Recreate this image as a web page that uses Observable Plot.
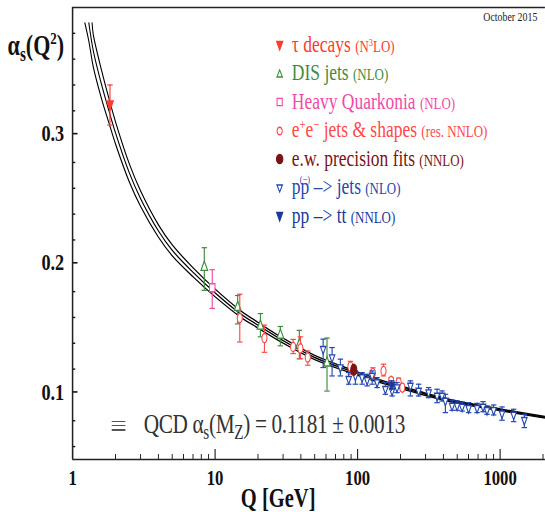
<!DOCTYPE html>
<html><head><meta charset="utf-8">
<script src="https://cdn.jsdelivr.net/npm/d3@7"></script>
<script src="https://cdn.jsdelivr.net/npm/@observablehq/plot@0.6"></script>
<style>
html,body{margin:0;padding:0;background:#fff;}
#wrap{position:relative;width:545px;height:512px;overflow:hidden;}
#inner{position:absolute;left:0;top:0;width:717px;height:512px;transform:scaleX(0.76);transform-origin:0 0;font-family:"Liberation Serif","Times New Roman",serif;}
#inner svg.chart{position:absolute;left:0;top:0;}
.t{position:absolute;white-space:nowrap;line-height:1;}
.leg{font-size:23px;}
.leg small{font-size:17px;}
.leg sup{font-size:14px;vertical-align:8px;line-height:0;}
.leg small sup{font-size:11px;vertical-align:6px;}
.mk{position:absolute;overflow:visible;}
</style></head>
<body><div id="wrap"><div id="inner"></div></div>
<script>
// ---------- data ----------
// QCD running coupling band
const lowerQ  = [1.22, 1.3, 1.4, 1.6, 1.8, 2.0, 2.5, 3, 4, 5, 7, 10, 15, 20, 30, 50, 91.2, 150, 200, 300, 500, 1000, 2100];
const lowerA  = [0.388, 0.374, 0.3535, 0.329, 0.3105, 0.2944, 0.265, 0.246, 0.2222, 0.2078, 0.1915, 0.176, 0.1605, 0.1518, 0.1401, 0.1274, 0.1168, 0.1089, 0.105, 0.0996, 0.0937, 0.0878, 0.0819];
const centralQ = [1.3, 1.4, 1.6, 1.8, 2.0, 2.5, 3, 4, 5, 7, 10, 15, 20, 30, 50, 91.2, 150, 200, 300, 500, 1000, 2100];
const centralA = [0.388, 0.366, 0.340, 0.320, 0.303, 0.272, 0.252, 0.227, 0.212, 0.195, 0.179, 0.163, 0.154, 0.142, 0.129, 0.1181, 0.110, 0.106, 0.1005, 0.0945, 0.0885, 0.0825];
const upperQ  = [1.37, 1.4, 1.6, 1.8, 2.0, 2.5, 3, 4, 5, 7, 10, 15, 20, 30, 50, 91.2, 150, 200, 300, 500, 1000, 2100];
const upperA  = [0.388, 0.3785, 0.351, 0.3295, 0.3116, 0.279, 0.258, 0.2318, 0.2162, 0.1985, 0.182, 0.1655, 0.1562, 0.1439, 0.1306, 0.1194, 0.1111, 0.107, 0.1014, 0.0953, 0.0892, 0.0831];

// tau decays (N3LO)
const tauQ = [1.83], tauA = [0.325], tauLo = [0.309], tauHi = [0.340];
// DIS jets (NLO)
const disQ  = [8.4, 14.4, 20.8, 28.7, 39, 61];
const disA  = [0.199, 0.168, 0.1535, 0.1465, 0.139, 0.125];
const disLo = [0.181, 0.155, 0.145, 0.138, 0.128, 0.103];
const disHi = [0.214, 0.177, 0.163, 0.153, 0.150, 0.144];
// Heavy Quarkonia (NLO)
const hqQ = [9.55], hqA = [0.183], hqLo = [0.167], hqHi = [0.197];
// e+e- jets & shapes (res. NNLO)
const eeQ  = [14.9, 22.2, 35.3, 39.7, 44.7, 89, 128, 152, 172, 194, 206];
const eeA  = [0.1595, 0.144, 0.1372, 0.136, 0.129, 0.122, 0.117, 0.1186, 0.1109, 0.1096, 0.1057];
const eeLo = [0.141, 0.133, 0.132, 0.128, 0.123, 0.116, 0.112, 0.1147, 0.107, 0.1062, 0.1031];
const eeHi = [0.178, 0.154, 0.143, 0.145, 0.134, 0.126, 0.121, 0.1238, 0.1134, 0.113, 0.1083];
// e.w. precision fits (NNLO)
const ewQ = [94], ewA = [0.1195], ewLo = [0.117], ewHi = [0.122];
// p p(bar) -> jets (NLO)
const ppQ  = [57.3, 66.2, 75.7, 86.6, 96.5, 107.5, 116.6, 126.4, 137, 156.7, 174.6, 189, 234.6, 268, 315, 361, 391, 413, 460, 499, 541, 601, 689, 759, 809, 901, 1031, 1244, 1479];
const ppA  = [0.1354, 0.1289, 0.1212, 0.1122, 0.1147, 0.1134, 0.1114, 0.1147, 0.1096, 0.1044, 0.1031, 0.1057, 0.107, 0.1031, 0.1018, 0.0992, 0.0992, 0.0953, 0.0915, 0.0915, 0.0907, 0.0897, 0.0897, 0.0907, 0.0881, 0.0881, 0.0855, 0.0845, 0.0804];
const ppLo = [0.1212, 0.1147, 0.1147, 0.1083, 0.1083, 0.1083, 0.107, 0.1083, 0.1057, 0.1005, 0.0992, 0.1018, 0.0992, 0.0992, 0.0979, 0.094, 0.0953, 0.0863, 0.0881, 0.0881, 0.0875, 0.0863, 0.0863, 0.087, 0.085, 0.0845, 0.0804, 0.0793, 0.0747];
const ppHi = [0.1432, 0.1367, 0.1277, 0.1173, 0.1186, 0.1173, 0.116, 0.1186, 0.1134, 0.1096, 0.107, 0.1096, 0.1109, 0.1083, 0.1057, 0.1044, 0.1031, 0.1005, 0.0959, 0.0953, 0.0945, 0.094, 0.0935, 0.0948, 0.0915, 0.0922, 0.0907, 0.0889, 0.085];
// pp -> tt (NNLO)
const ttQ = [173], ttA = [0.1077], ttLo = [0.1045], ttHi = [0.111];

// axes
const yMajor = [0.1, 0.2, 0.3];
const yTickLabels = ["0.1", "0.2", "0.3"];
const yMinor = [0.06, 0.08, 0.12, 0.14, 0.16, 0.18, 0.22, 0.24, 0.26, 0.28, 0.32, 0.34, 0.36, 0.38];
const xMajor = [1, 10, 100, 1000];
const xTickLabels = ["1", "10", "100", "1000"];
const xMinor = [2,3,4,5,6,7,8,9,20,30,40,50,60,70,80,90,200,300,400,500,600,700,800,900,2000];

const colors = {tau:"#ff3b2f", dis:"#3f8c3f", hq:"#f04aa8", ee:"#ff4848", ew:"#7a1414", pp:"#2447b0", tt:"#1a3a9c"};

// ---------- helpers ----------
const rows = (Q, A, Lo, Hi) => Q.map((q, i) => ({q, a: A[i], lo: Lo[i], hi: Hi[i]}));
const pts = (Q, A) => Q.map((q, i) => ({q, a: A[i]}));
const rad = size => Math.sqrt(size / Math.PI);
const triDown = {draw(c, size){ const r = rad(size); c.moveTo(0, r*1.35); c.lineTo(-r, -r*0.75); c.lineTo(r, -r*0.75); c.closePath(); }};
const triUp = {draw(c, size){ const r = rad(size); c.moveTo(0, -r*1.35); c.lineTo(-r, r*0.75); c.lineTo(r, r*0.75); c.closePath(); }};
const sq = {draw(c, size){ const r = rad(size); c.rect(-r, -r*1.1, 2*r, 2.2*r); }};
const oval = {draw(c, size){ const r = rad(size); const rx = r*0.8, ry = r*1.1, k = 0.5523;
  c.moveTo(rx, 0);
  c.bezierCurveTo(rx, ry*k, rx*k, ry, 0, ry);
  c.bezierCurveTo(-rx*k, ry, -rx, ry*k, -rx, 0);
  c.bezierCurveTo(-rx, -ry*k, -rx*k, -ry, 0, -ry);
  c.bezierCurveTo(rx*k, -ry, rx, -ry*k, rx, 0);
  c.closePath(); }};
const cap = {draw(c){ c.moveTo(-3.6, 0); c.lineTo(3.6, 0); }};

function series(data, color, symbol, r, filled){
  return [
    Plot.ruleX(data, {x:"q", y1:"lo", y2:"hi", stroke: color, strokeWidth: 1.5}),
    Plot.dot(data, {x:"q", y:"lo", symbol: cap, r: 2, stroke: color, strokeWidth: 1.2}),
    Plot.dot(data, {x:"q", y:"hi", symbol: cap, r: 2, stroke: color, strokeWidth: 1.2}),
    Plot.dot(data, {x:"q", y:"a", symbol, r, stroke: color, strokeWidth: 1.4, fill: filled ? color : "white"})
  ];
}

const chart = Plot.plot({
  width: 717, height: 512,
  marginLeft: 95, marginRight: 0, marginTop: 7, marginBottom: 53,
  x: {type: "log", domain: [1, 2075]},
  y: {domain: [0.05, 0.4]},
  style: {fontFamily: "'Liberation Serif', serif", background: "transparent", overflow: "visible", color: "#111"},
  marks: [
    Plot.axisY(yMinor, {tickSize: -4, tickFormat: () => "", label: null, strokeWidth: 1.4}),
    Plot.axisY(yMajor, {tickSize: -7, tickPadding: 18, dy: -3, tickFormat: (d, i) => yTickLabels[i], fontSize: 24, fontWeight: "bold", label: null, strokeWidth: 1.6}),
    Plot.axisX(xMinor, {tickSize: -5, tickFormat: () => "", label: null, strokeWidth: 1.2}),
    Plot.axisX(xMajor, {tickSize: -10, tickFormat: () => "", label: null, strokeWidth: 1.4}),
    Plot.text(xMajor, {x: d => d, text: (d, i) => xTickLabels[i], frameAnchor: "bottom", lineAnchor: "top", dy: 9.5, fontSize: 22, fontWeight: "bold", fill: "#111"}),
    Plot.ruleX([1], {stroke: "#222", strokeWidth: 2}),
    Plot.ruleY([0.05], {stroke: "#222", strokeWidth: 1.6}),
    Plot.ruleY([0.4], {stroke: "#222", strokeWidth: 1.6}),
    Plot.line(pts(lowerQ, lowerA), {x:"q", y:"a", stroke:"black", strokeWidth: 1.4, curve: "catmull-rom", clip: true}),
    Plot.line(pts(centralQ, centralA), {x:"q", y:"a", stroke:"black", strokeWidth: 1.4, curve: "catmull-rom", clip: true}),
    Plot.line(pts(upperQ, upperA), {x:"q", y:"a", stroke:"black", strokeWidth: 1.4, curve: "catmull-rom", clip: true}),
    ...series(rows(disQ, disA, disLo, disHi), colors.dis, triUp, 4.4, false),
    ...series(rows(hqQ, hqA, hqLo, hqHi), colors.hq, sq, 3.6, false),
    ...series(rows(eeQ, eeA, eeLo, eeHi), colors.ee, oval, 4.2, false),
    ...series(rows(ppQ, ppA, ppLo, ppHi), colors.pp, triDown, 3.6, false),
    ...series(rows(ttQ, ttA, ttLo, ttHi), colors.tt, triDown, 3.6, true),
    ...series(rows(ewQ, ewA, ewLo, ewHi), colors.ew, oval, 5, true),
    ...series(rows(tauQ, tauA, tauLo, tauHi), colors.tau, triDown, 4.4, true)
  ]
});
chart.classList.add("chart");
const inner = document.getElementById("inner");
inner.appendChild(chart);

// ---------- texts & legend (HTML overlay, same scaled container) ----------
function addText(html, left, baseline, size, opts = {}){
  const d = document.createElement("div");
  d.className = "t " + (opts.cls || "");
  d.style.fontSize = size + "px";
  d.style.height = size + "px";
  d.innerHTML = html;
  if (opts.color) d.style.color = opts.color;
  if (opts.weight) d.style.fontWeight = opts.weight;
  if (opts.spacing) d.style.letterSpacing = opts.spacing;
  d.style.top = (baseline - 0.837 * size) + "px";
  if (opts.anchor === "end") { d.style.right = (717 - left) + "px"; }
  else if (opts.anchor === "middle") { d.style.left = left + "px"; d.style.transform = "translateX(-50%)"; }
  else d.style.left = left + "px";
  inner.appendChild(d);
  return d;
}

addText("October 2015", 707, 21, 13, {anchor: "end", color: "#222"});
addText("α<sub style='font-size:20px;vertical-align:-6px;line-height:0'>s</sub>(Q<sup style='font-size:17px;vertical-align:11px;line-height:0'>2</sup>)", 10, 55, 29, {weight: "bold", color: "#111"});
addText("Q [GeV]", 366, 508, 27, {weight: "bold", anchor: "middle", color: "#111"});
addText("QCD α<sub style='font-size:20px;vertical-align:-6px;line-height:0'>s</sub>(M<sub style='font-size:20px;vertical-align:-6px;line-height:0'>Z</sub>) = 0.1181 ± 0.0013", 189, 433, 28, {color: "#333", spacing: "-0.45px"});
// band symbol (three thin lines)
[421.7, 425.7, 430].forEach(y => {
  const l = document.createElement("div");
  l.style.cssText = `position:absolute;left:147px;top:${y-0.6}px;width:18px;height:1.3px;background:#555;`;
  inner.appendChild(l);
});

const legend = [
  {html: "τ decays <small>(N<sup>3</sup>LO)</small>", color: colors.tau, mk: "triDownF"},
  {html: "DIS jets <small>(NLO)</small>", color: colors.dis, mk: "triUp"},
  {html: "Heavy Quarkonia <small>(NLO)</small>", color: colors.hq, mk: "sq"},
  {html: "e<sup>+</sup>e<sup>−</sup> jets &amp; shapes <small>(res. NNLO)</small>", color: colors.ee, mk: "circ"},
  {html: "e.w. precision fits <small>(NNLO)</small>", color: colors.ew, mk: "circF"},
  {html: "p<span style='position:relative;display:inline-block'>p<span style='position:absolute;left:-1px;top:-1px;font-size:11px;line-height:1'>(−)</span></span> –&gt; jets <small>(NLO)</small>", color: colors.pp, mk: "triDown"},
  {html: "pp –&gt; tt <small>(NNLO)</small>", color: colors.tt, mk: "triDownF"}
];
const mkPaths = {
  triDownF: ["M-4,-3.5L4,-3.5L0,5Z", true],
  triDown: ["M-3.6,-3L3.6,-3L0,4Z", false],
  triUp: ["M-3.6,3L3.6,3L0,-4Z", false],
  sq: ["M-3.4,-3.6H3.4V3.6H-3.4Z", false],
  circ: ["M-3.4,0A3.4,3.8 0 1,0 3.4,0A3.4,3.8 0 1,0 -3.4,0Z", false],
  circF: ["M-4.2,0A4.2,4.6 0 1,0 4.2,0A4.2,4.6 0 1,0 -4.2,0Z", true]
};
legend.forEach((row, i) => {
  const base = 52 + 28.5 * i;
  addText(row.html, 384, base, 23, {cls: "leg", color: row.color});
  const [p, filled] = mkPaths[row.mk];
  const s = document.createElementNS("http://www.w3.org/2000/svg", "svg");
  s.setAttribute("class", "mk");
  s.setAttribute("width", 14); s.setAttribute("height", 14);
  s.setAttribute("viewBox", "-7 -7 14 14");
  s.style.left = (368 - 7) + "px"; s.style.top = (base - 7 - 7) + "px";
  s.innerHTML = `<path d="${p}" fill="${filled ? row.color : "white"}" stroke="${row.color}" stroke-width="1.4"/>`;
  inner.appendChild(s);
});
</script></body></html>
